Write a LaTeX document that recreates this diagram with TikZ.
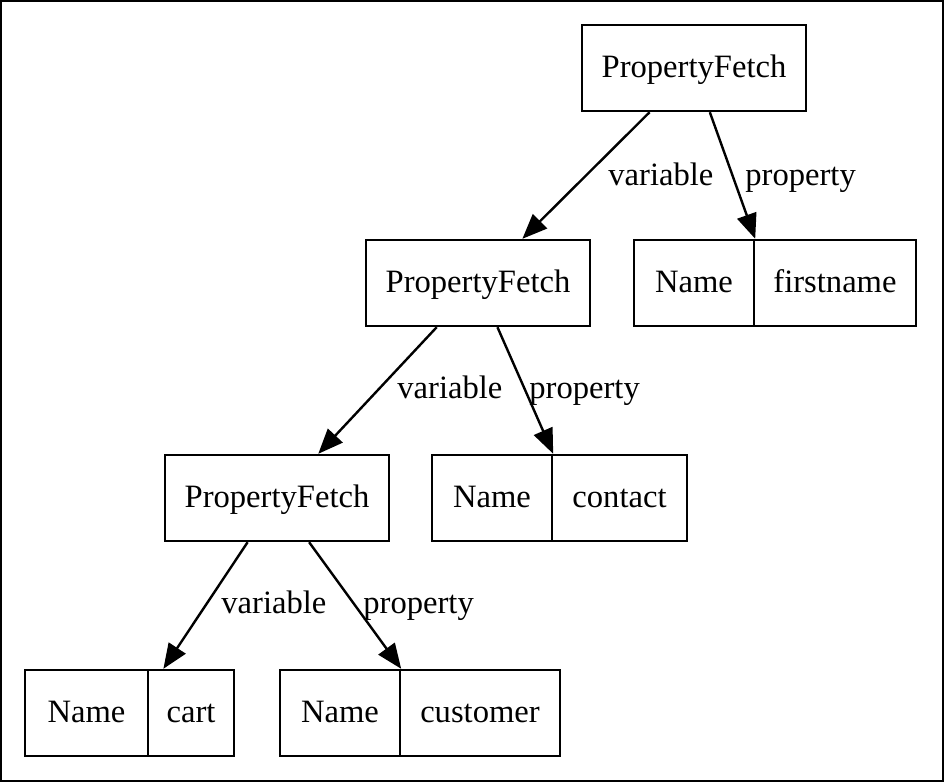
\documentclass[tikz,border=0pt]{standalone}
\usepackage{fontspec}
\setmainfont{Liberation Serif}
\usetikzlibrary{arrows.meta}

\tikzset{
  fetch/.style={draw,line width=1.2pt,minimum width=112pt,minimum height=43pt,inner sep=0pt,
    text height=11pt,text depth=2pt},
  field/.style={draw,line width=1.2pt,minimum height=43pt,inner sep=0pt,
    text height=11pt,text depth=2pt},
  edgelab/.style={anchor=base west,inner sep=0pt},
  link/.style={line width=1.2pt,-{Triangle[length=12.5pt,width=10pt]}}
}

\begin{document}
\begin{tikzpicture}[x=.5pt,y=-.5pt,font=\fontsize{16.3}{19}\selectfont]
  \useasboundingbox (0,0) rectangle (944,782);
  \draw[line width=1.2pt] (1,1) rectangle (943,781);
  % fetch nodes
  \node[fetch] (pf1) at (694,68) {PropertyFetch};
  \node[fetch] (pf2) at (478,283) {PropertyFetch};
  \node[fetch] (pf3) at (277,498) {PropertyFetch};
  % name records, two fields each
  \node[field,minimum width=60pt] (firstk) at (694,283) {Name};
  \node[field,minimum width=81pt] (firstv) at (835,283) {firstname};
  \node[field,minimum width=60pt] (contactk) at (492,498) {Name};
  \node[field,minimum width=67.5pt] (contactv) at (619.5,498) {contact};
  \node[field,minimum width=61.5pt] (cartk) at (86.5,713) {Name};
  \node[field,minimum width=43pt] (cartv) at (191,713) {cart};
  \node[field,minimum width=60pt] (custk) at (340,713) {Name};
  \node[field,minimum width=80pt] (custv) at (480,713) {customer};
  % edges
  \draw[link] (pf1) -- (pf2);
  \draw[link] (pf1) -- (firstk.north east);
  \draw[link] (pf2) -- (pf3);
  \draw[link] (pf2) -- (contactk.north east);
  \draw[link] (pf3) -- (cartv.122);
  \draw[link] (pf3) -- (custk.north east);
  \node[edgelab] (v1) at (608,185) {variable};
  \node[edgelab] (p1) at (745,185) {property};
  \node[edgelab] (v2) at (397,398) {variable};
  \node[edgelab] (p2) at (529,398) {property};
  \node[edgelab] (v3) at (221,613) {variable};
  \node[edgelab] (p3) at (363,613) {property};
\end{tikzpicture}
\end{document}
